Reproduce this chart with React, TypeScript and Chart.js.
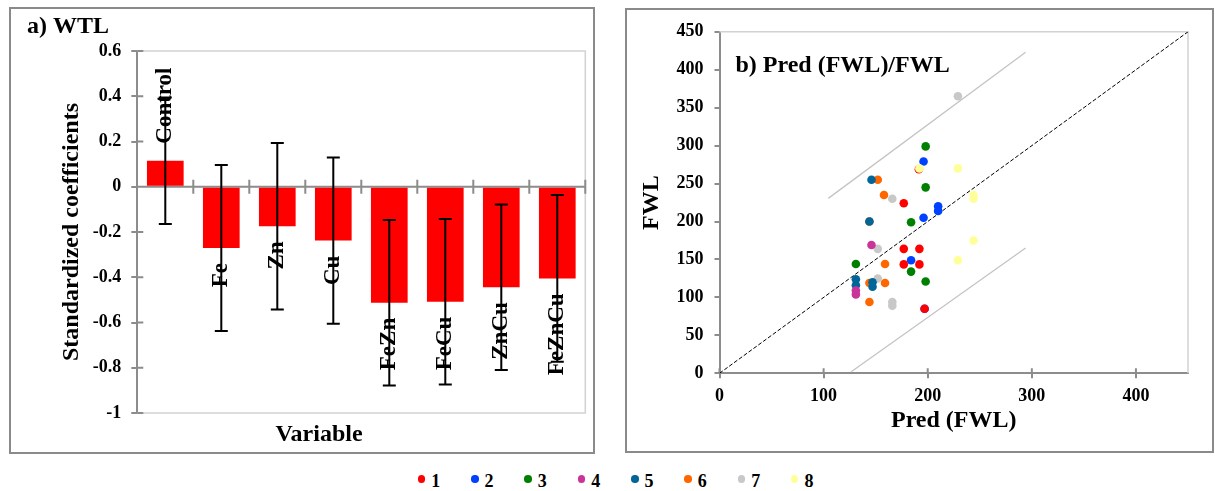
import { useEffect, useRef } from 'react';
import { Chart, registerables } from 'chart.js';

Chart.register(...registerables);

const FONT = "'Liberation Serif', 'Times New Roman', serif";
Chart.defaults.font.family = FONT;

// ---------- Panel a) WTL ----------
const categories = ['Control', 'Fe', 'Zn', 'Cu', 'FeZn', 'FeCu', 'ZnCu', 'FeZnCu'];
const coefficients = [0.115, -0.271, -0.175, -0.238, -0.513, -0.508, -0.444, -0.405];
const coefErrors = [0.28, 0.367, 0.368, 0.367, 0.366, 0.366, 0.366, 0.368];
const coefTicks = [0.6, 0.4, 0.2, 0, -0.2, -0.4, -0.6, -0.8, -1];

// ---------- Panel b) Pred (FWL)/FWL ----------
const seriesNames = ['1', '2', '3', '4', '5', '6', '7', '8'];
const seriesColors = ['#FF0000', '#0040FF', '#008000', '#CC3399', '#006699', '#FF6600', '#C8C8C8', '#FFFF99'];

const s1Pred = [177, 177, 192, 177, 192, 197, 191.5];
const s1Obs = [224, 164, 164, 143.5, 143.5, 85, 269];
const s2Pred = [196, 196, 210, 210, 184, 197];
const s2Obs = [279, 205, 220, 214, 149, 85];
const s3Pred = [198, 198, 184, 131, 184, 198];
const s3Obs = [299, 245, 199, 144, 134, 121];
const s4Pred = [146, 131, 131];
const s4Obs = [169, 109, 104];
const s5Pred = [146, 144, 131, 131, 147, 147];
const s5Obs = [255, 200, 124, 116, 120, 114];
const s6Pred = [152, 158, 144, 159, 144, 159, 144];
const s6Obs = [255, 235, 200, 144, 119, 119, 94];
const s7Pred = [229, 166, 152, 152, 166, 166];
const s7Obs = [365, 230, 164, 125, 94, 89];
const s8Pred = [192, 229, 244, 244, 244, 229];
const s8Obs = [270, 270, 235, 230, 175, 149];

const predSeries = [s1Pred, s2Pred, s3Pred, s4Pred, s5Pred, s6Pred, s7Pred, s8Pred];
const obsSeries = [s1Obs, s2Obs, s3Obs, s4Obs, s5Obs, s6Obs, s7Obs, s8Obs];

const identityPred = [0, 450];
const identityObs = [0, 450];
const upperBoundPred = [104.5, 294];
const upperBoundObs = [230.5, 423];
const lowerBoundPred = [126.5, 294];
const lowerBoundObs = [2, 165];

const predTicks = [0, 100, 200, 300, 400];
const fwlTicks = [0, 50, 100, 150, 200, 250, 300, 350, 400, 450];

const AXIS_GREY = '#8c8c8c';
const FRAME_GREY = '#d2d2d2';

const toPoints = (xs: number[], ys: number[]) => xs.map((x, i) => ({ x, y: ys[i] }));

const wtlPlugin = {
  id: 'wtlDecor',
  beforeDatasetsDraw(chart: any) {
    const { ctx, chartArea: a, scales } = chart;
    const x = scales.x;
    const y = scales.y;
    ctx.save();
    ctx.strokeStyle = FRAME_GREY;
    ctx.lineWidth = 1.5;
    ctx.beginPath();
    ctx.moveTo(a.left, a.top);
    ctx.lineTo(a.right, a.top);
    ctx.lineTo(a.right, a.bottom);
    ctx.lineTo(a.left, a.bottom);
    ctx.stroke();

    const y0 = y.getPixelForValue(0);
    ctx.strokeStyle = AXIS_GREY;
    ctx.lineWidth = 2;
    ctx.beginPath();
    ctx.moveTo(a.left, y0);
    ctx.lineTo(a.right, y0);
    const half = (x.getPixelForValue(1) - x.getPixelForValue(0)) / 2;
    for (let i = 0; i < categories.length; i++) {
      const bx = x.getPixelForValue(i) + half;
      ctx.moveTo(bx, y0 - 7);
      ctx.lineTo(bx, y0 + 7);
    }
    for (const t of y.ticks) {
      const py = y.getPixelForValue(t.value);
      ctx.moveTo(a.left, py);
      ctx.lineTo(a.left + 6, py);
    }
    ctx.stroke();
    ctx.restore();
  },
  afterDatasetsDraw(chart: any) {
    const { ctx, scales } = chart;
    const x = scales.x;
    const y = scales.y;
    ctx.save();
    ctx.strokeStyle = '#000';
    ctx.lineWidth = 2;
    ctx.beginPath();
    coefficients.forEach((v, i) => {
      const cx = x.getPixelForValue(i);
      const top = y.getPixelForValue(v + coefErrors[i]);
      const bot = y.getPixelForValue(v - coefErrors[i]);
      ctx.moveTo(cx, top);
      ctx.lineTo(cx, bot);
      ctx.moveTo(cx - 6.5, top);
      ctx.lineTo(cx + 6.5, top);
      ctx.moveTo(cx - 6.5, bot);
      ctx.lineTo(cx + 6.5, bot);
    });
    ctx.stroke();

    ctx.fillStyle = '#000';
    ctx.font = `bold 23px ${FONT}`;
    ctx.textBaseline = 'middle';
    coefficients.forEach((v, i) => {
      const cx = x.getPixelForValue(i);
      const end = y.getPixelForValue(v);
      ctx.save();
      if (v >= 0) {
        ctx.translate(cx, end - 17);
        ctx.rotate(-Math.PI / 2);
        ctx.textAlign = 'left';
      } else {
        ctx.translate(cx, end + 15);
        ctx.rotate(-Math.PI / 2);
        ctx.textAlign = 'right';
      }
      ctx.fillText(categories[i], 0, 0);
      ctx.restore();
    });

    ctx.font = `bold 24px ${FONT}`;
    ctx.textAlign = 'left';
    ctx.textBaseline = 'middle';
    ctx.fillText('a) WTL', 16, 18);
    ctx.textAlign = 'center';
    ctx.fillText('Variable', 308, 426);
    ctx.restore();
  },
};

const fwlPlugin = {
  id: 'fwlDecor',
  beforeDatasetsDraw(chart: any) {
    const { ctx, chartArea: a, scales } = chart;
    const x = scales.x;
    ctx.save();
    ctx.strokeStyle = FRAME_GREY;
    ctx.lineWidth = 1.5;
    ctx.beginPath();
    ctx.moveTo(a.left, a.top);
    ctx.lineTo(a.right, a.top);
    ctx.lineTo(a.right, a.bottom);
    ctx.stroke();
    ctx.strokeStyle = AXIS_GREY;
    ctx.lineWidth = 2;
    ctx.beginPath();
    for (const t of x.ticks) {
      const px = x.getPixelForValue(t.value);
      ctx.moveTo(px, a.bottom - 5);
      ctx.lineTo(px, a.bottom);
    }
    ctx.stroke();
    ctx.restore();
  },
  afterDatasetsDraw(chart: any) {
    const { ctx, chartArea: a } = chart;
    ctx.save();
    ctx.fillStyle = '#000';
    ctx.font = `bold 24px ${FONT}`;
    ctx.textAlign = 'left';
    ctx.textBaseline = 'middle';
    ctx.fillText('b) Pred (FWL)/FWL', a.left + 16, a.top + 34);
    ctx.restore();
  },
};

const tickFont = { family: FONT, size: 18, weight: 'bold' as const };
const titleFont = { family: FONT, size: 24, weight: 'bold' as const, lineHeight: 1 };

function WtlChart() {
  const ref = useRef<HTMLCanvasElement>(null);
  useEffect(() => {
    const chart = new Chart(ref.current as HTMLCanvasElement, {
      type: 'bar',
      data: {
        labels: categories,
        datasets: [
          {
            label: 'Standardized coefficients',
            data: coefficients,
            backgroundColor: '#FF0000',
            borderWidth: 0,
            barPercentage: 0.655,
            categoryPercentage: 1,
          },
        ],
      },
      options: {
        animation: false,
        responsive: false,
        maintainAspectRatio: false,
        layout: { padding: { left: 10, top: 42, right: 7.7, bottom: 39 } },
        plugins: { legend: { display: false }, tooltip: { enabled: false }, title: { display: false } },
        scales: {
          x: { display: false },
          y: {
            min: -1,
            max: 0.6,
            afterBuildTicks: (s: any) => {
              s.ticks = coefTicks.map((v) => ({ value: v }));
            },
            afterFit: (s: any) => {
              s.width = 116.3;
            },
            ticks: {
              font: tickFont,
              color: '#000',
              padding: 10,
              callback: (v: any) => String(Math.round(Number(v) * 10) / 10),
            },
            grid: { display: true, drawOnChartArea: false, drawTicks: true, tickLength: 6, color: AXIS_GREY, lineWidth: 2 },
            border: { display: true, color: AXIS_GREY, width: 2 },
            title: {
              display: true,
              text: 'Standardized coefficients',
              font: titleFont,
              color: '#000',
              padding: { top: 39, bottom: 0 },
            },
          },
        },
      } as any,
      plugins: [wtlPlugin],
    });
    return () => chart.destroy();
  }, []);
  return <canvas ref={ref} width={582} height={443} style={{ display: 'block', width: 582, height: 443 }} />;
}

function FwlChart() {
  const ref = useRef<HTMLCanvasElement>(null);
  useEffect(() => {
    const pointSets = seriesNames.map((name, i) => ({
      label: name,
      data: toPoints(predSeries[i], obsSeries[i]),
      backgroundColor: seriesColors[i],
      borderColor: seriesColors[i],
      borderWidth: 0,
      pointRadius: 4.3,
      pointHoverRadius: 4.3,
      order: i === 7 ? -1 : 0,
    }));
    const chart = new Chart(ref.current as HTMLCanvasElement, {
      type: 'scatter',
      data: {
        datasets: [
          ...pointSets,
          {
            label: '1:1',
            data: toPoints(identityPred, identityObs),
            showLine: true,
            borderColor: '#000',
            borderWidth: 1,
            borderDash: [4, 2],
            pointRadius: 0,
            order: 10,
          },
          {
            label: 'upper',
            data: toPoints(upperBoundPred, upperBoundObs),
            showLine: true,
            borderColor: '#c4c4c4',
            borderWidth: 1.3,
            pointRadius: 0,
            order: 10,
          },
          {
            label: 'lower',
            data: toPoints(lowerBoundPred, lowerBoundObs),
            showLine: true,
            borderColor: '#c4c4c4',
            borderWidth: 1.3,
            pointRadius: 0,
            order: 10,
          },
        ],
      },
      options: {
        animation: false,
        responsive: false,
        maintainAspectRatio: false,
        layout: { padding: { left: 5, top: 14.3, right: 24, bottom: 10 } },
        plugins: { legend: { display: false }, tooltip: { enabled: false }, title: { display: false } },
        scales: {
          x: {
            type: 'linear',
            min: 0,
            max: 450,
            afterBuildTicks: (s: any) => {
              s.ticks = predTicks.map((v) => ({ value: v }));
            },
            afterFit: (s: any) => {
              s.height = 67.7;
            },
            ticks: { font: tickFont, color: '#000', padding: 7.6 },
            grid: { display: true, drawOnChartArea: false, drawTicks: true, tickLength: 5, color: AXIS_GREY, lineWidth: 2 },
            border: { display: true, color: AXIS_GREY, width: 2 },
            title: { display: true, text: 'Pred (FWL)', font: titleFont, color: '#000', padding: { top: 0, bottom: 8.3 } },
          },
          y: {
            type: 'linear',
            min: 0,
            max: 450,
            afterBuildTicks: (s: any) => {
              s.ticks = fwlTicks.map((v) => ({ value: v }));
            },
            afterFit: (s: any) => {
              s.width = 87.5;
            },
            ticks: { font: tickFont, color: '#000', padding: 11 },
            grid: { display: true, drawOnChartArea: false, drawTicks: true, tickLength: 5, color: AXIS_GREY, lineWidth: 2 },
            border: { display: true, color: AXIS_GREY, width: 2 },
            title: { display: true, text: 'FWL', font: titleFont, color: '#000', padding: { top: 8, bottom: 0 } },
          },
        },
      } as any,
      plugins: [fwlPlugin],
    });
    return () => chart.destroy();
  }, []);
  return <canvas ref={ref} width={585} height={441} style={{ display: 'block', width: 585, height: 441 }} />;
}

function Legend() {
  return (
    <div style={{ position: 'absolute', left: 417.7, top: 471, display: 'flex' }}>
      {seriesNames.map((name, i) => (
        <div key={name} style={{ width: 53.33, display: 'flex', alignItems: 'center', height: 20 }}>
          <span
            style={{
              width: 7.5,
              height: 7.5,
              borderRadius: '50%',
              background: seriesColors[i],
              marginRight: 6,
              transform: 'translateY(-2px)',
              flex: 'none',
            }}
          />
          <span style={{ font: `bold 18px ${FONT}`, lineHeight: '20px', color: '#000' }}>{name}</span>
        </div>
      ))}
    </div>
  );
}

export default function App() {
  const panel = {
    position: 'absolute' as const,
    boxSizing: 'border-box' as const,
    border: '2px solid #8a8a8a',
    background: '#fff',
  };
  return (
    <div style={{ position: 'absolute', left: 0, top: 0, width: 1215, height: 491, background: '#fff', overflow: 'hidden' }}>
      <div style={{ ...panel, left: 9, top: 7, width: 586, height: 447 }}>
        <WtlChart />
      </div>
      <div style={{ ...panel, left: 625, top: 8, width: 589, height: 445 }}>
        <FwlChart />
      </div>
      <Legend />
    </div>
  );
}
